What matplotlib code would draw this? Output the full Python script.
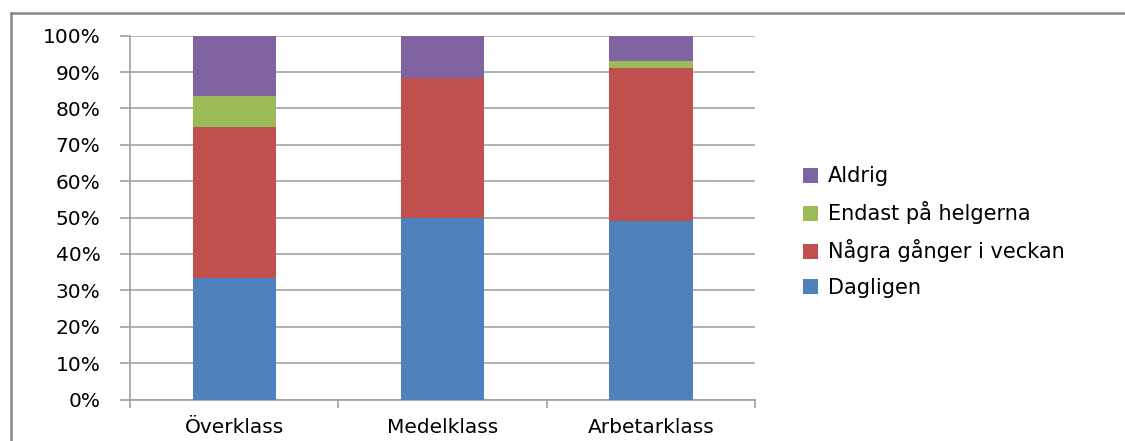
import matplotlib
matplotlib.use("Agg")
import matplotlib.pyplot as plt
from matplotlib.lines import Line2D
from matplotlib.patches import Patch
import numpy as np

categories = ["Överklass", "Medelklass", "Arbetarklass"]
series_names = ["Dagligen", "Några gånger i veckan", "Endast på helgerna", "Aldrig"]
dagligen = [33.3, 50.0, 49.0]
nagra_ganger = [41.7, 38.4, 42.0]
endast_helger = [8.3, 0.0, 2.0]
aldrig = [16.7, 11.6, 7.0]
colors = ["#4F81BD", "#C0504D", "#9BBB59", "#8064A2"]
yticks = [0, 10, 20, 30, 40, 50, 60, 70, 80, 90, 100]

plt.rcParams["font.family"] = ["DejaVu Sans"]

fig = plt.figure(figsize=(11.25, 4.41), dpi=100)
ax = fig.add_axes([130 / 1125, 41.5 / 441, 625 / 1125, 363.8 / 441])

x = np.arange(len(categories))
bottom = np.zeros(len(categories))
values = [dagligen, nagra_ganger, endast_helger, aldrig]
for name, vals, c in zip(series_names, values, colors):
    ax.bar(x, vals, width=0.4, bottom=bottom, color=c, label=name, zorder=3, linewidth=0)
    bottom += np.array(vals)

ax.set_xlim(-0.5, len(categories) - 0.5)
ax.set_ylim(0, 100)
ax.set_yticks(yticks)
ax.set_yticklabels([f"{v}%" for v in yticks])
ax.yaxis.grid(True, color="#B0B0B0", linewidth=1.4, zorder=0)
ax.set_axisbelow(True)

ax.set_xticks(x)
ax.set_xticklabels(categories)
ax.set_xticks(np.arange(-0.5, len(categories)), minor=True)
ax.tick_params(axis="x", which="major", length=0, pad=13, labelsize=14.5, colors="#000000")
ax.tick_params(axis="x", which="minor", length=6, width=1.2, color="#A0A0A0", direction="out")
ax.tick_params(axis="y", length=7.2, width=1.2, color="#A0A0A0", pad=14, labelsize=14.5)

for s in ["top", "right"]:
    ax.spines[s].set_visible(False)
for s in ["left", "bottom"]:
    ax.spines[s].set_color("#A0A0A0")
    ax.spines[s].set_linewidth(1.2)

handles = [Patch(facecolor=c, edgecolor="none") for c in colors][::-1]
labels = series_names[::-1]
fig.legend(handles, labels, loc="center left", bbox_to_anchor=(803 / 1125, 1 - 232 / 441),
           frameon=False, fontsize=15, handlelength=0.7, handleheight=0.7,
           handletextpad=0.5, labelspacing=0.72, borderaxespad=0, borderpad=0)

# outer chart frame (top and left borders visible)
fig.add_artist(Line2D([11 / 1125, 1.0], [1 - 13 / 441, 1 - 13 / 441], transform=fig.transFigure,
                      color="#888888", linewidth=1.8))
fig.add_artist(Line2D([11 / 1125, 11 / 1125], [0.0, 1 - 13 / 441], transform=fig.transFigure,
                      color="#888888", linewidth=1.8))

fig.savefig("out.png", dpi=100, facecolor="white")
